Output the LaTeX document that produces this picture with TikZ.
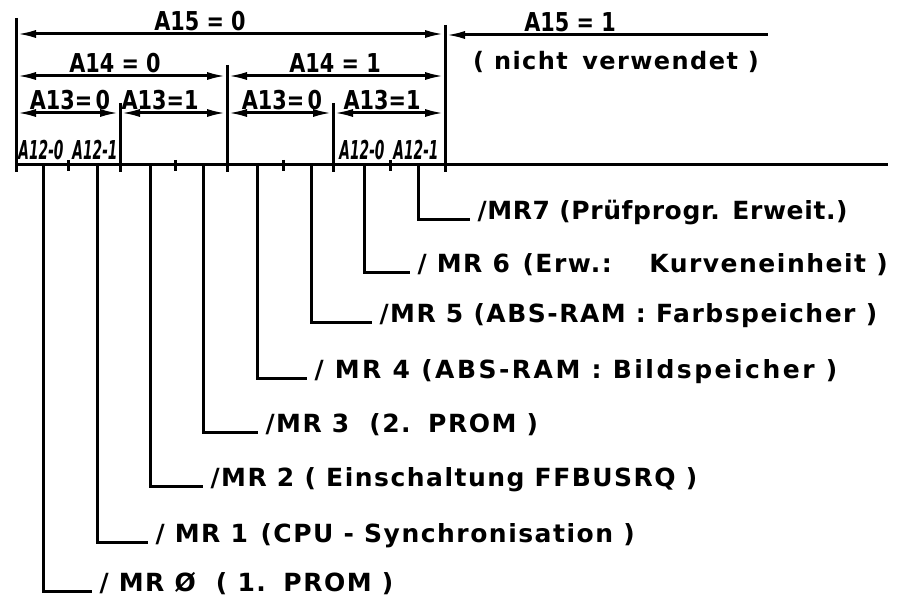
\documentclass[tikz,border=0pt]{standalone}
\usepackage{fontspec}
\usepackage{graphicx}
\setmainfont{DejaVu Sans}
\newfontfamily\dinfont[LetterSpace=6]{DejaVu Sans}
\usetikzlibrary{arrows.meta}
\tikzset{
  dimline/.style={{Latex[length=10pt,width=4pt]}-{Latex[length=10pt,width=4pt]}},
  dimleft/.style={{Latex[length=10pt,width=4pt]}-},
  hdrlbl/.style={font=\bfseries\fontsize{13}{14}\selectfont,inner sep=0pt,anchor=base},
  mrlbl/.style={font=\dinfont\bfseries\fontsize{12.5}{14}\selectfont,anchor=base west,inner xsep=3pt,inner ysep=0pt},
  bitlbl/.style={font=\bfseries\itshape\fontsize{13}{14}\selectfont,inner sep=0pt,anchor=base}
}
\newcommand{\bitnarrow}[1]{\scalebox{0.53}[1]{#1}}
\newcommand{\hdrnarrow}[1]{\scalebox{0.8}[1]{#1}}

\begin{document}
\begin{tikzpicture}[x=0.5pt,y=-0.5pt,line width=1.5pt]
  \useasboundingbox (0,0) rectangle (905,598);
  % extension lines and base line
  \draw (16,18) -- (16,172);
  \draw (445,25) -- (445,172);
  \draw (227,65) -- (227,172);
  \draw (120,103) -- (120,172);
  \draw (333,103) -- (333,172);
  \draw (16,165) -- (888,165);
  \foreach \tx in {68,175,283,390}
    \draw (\tx,160) -- (\tx,171);
  % dimension lines
  \draw[dimline] (16,34) -- (445,34);
  \draw[dimleft] (445,35) -- (768,35);
  \draw[dimline] (16,76) -- (227,76);
  \draw[dimline] (227,76) -- (445,76);
  \draw[dimline] (16,113) -- (120,113);
  \draw[dimline] (120,113) -- (227,113);
  \draw[dimline] (227,113) -- (333,113);
  \draw[dimline] (333,113) -- (445,113);
  % address labels
  \node[hdrlbl] (a15lo) at (200,31) {\hdrnarrow{A15 = 0}};
  \node[hdrlbl] (a15hi) at (570,32) {\hdrnarrow{A15 = 1}};
  \node[hdrlbl,font=\dinfont\bfseries\fontsize{12}{13}\selectfont,anchor=center] (unused) at (616,62) {( nicht\hspace{0.6em}verwendet )};
  \node[hdrlbl] (a14lo) at (115,73) {\hdrnarrow{A14 = 0}};
  \node[hdrlbl] (a14hi) at (335,73) {\hdrnarrow{A14 = 1}};
  \node[hdrlbl] (a13a) at (70,110) {\hdrnarrow{A13=\,0}};
  \node[hdrlbl] (a13b) at (160,110) {\hdrnarrow{A13=1}};
  \node[hdrlbl] (a13c) at (282,110) {\hdrnarrow{A13=\,0}};
  \node[hdrlbl] (a13d) at (382,110) {\hdrnarrow{A13=1}};
  \node[bitlbl] (b0a) at (41,160) {\bitnarrow{A12-0}};
  \node[bitlbl] (b1a) at (95,160) {\bitnarrow{A12-1}};
  \node[bitlbl] (b0b) at (362,160) {\bitnarrow{A12-0}};
  \node[bitlbl] (b1b) at (416,160) {\bitnarrow{A12-1}};
  % taps on the base line
  \foreach \i/\tx in {0/43,1/97,2/150,3/203,4/257,5/311,6/364,7/418}
    \coordinate (tap\i) at (\tx,165);
  % select lines
  \node[mrlbl] (mr7) at (470,220) {\addfontfeature{LetterSpace=2.5}/MR7 (Prüfprogr. Erweit.)};
  \node[mrlbl] (mr6) at (410,273) {/ MR 6\hspace{0.5em}(Erw.:\hspace{1.5em}Kurveneinheit )};
  \node[mrlbl] (mr5) at (372,323) {/MR 5 (ABS-RAM : Farbspeicher )};
  \node[mrlbl] (mr4) at (307,379) {\addfontfeature{LetterSpace=10}/ MR 4 (ABS-RAM : Bildspeicher )};
  \node[mrlbl] (mr3) at (258,433) {/MR 3\hspace{0.8em}(2.\hspace{0.7em}PROM )};
  \node[mrlbl] (mr2) at (203,487) {/MR 2 ( Einschaltung FFBUSRQ )};
  \node[mrlbl] (mr1) at (148,542) {/ MR 1\hspace{0.5em}(CPU - Synchronisation )};
  \node[mrlbl] (mr0) at (92,591) {/ MR Ø\hspace{0.8em}( 1.\hspace{0.7em}PROM )};
  \foreach \i in {0,...,7}
    \draw (tap\i) |- (mr\i.base west);
\end{tikzpicture}
\end{document}
